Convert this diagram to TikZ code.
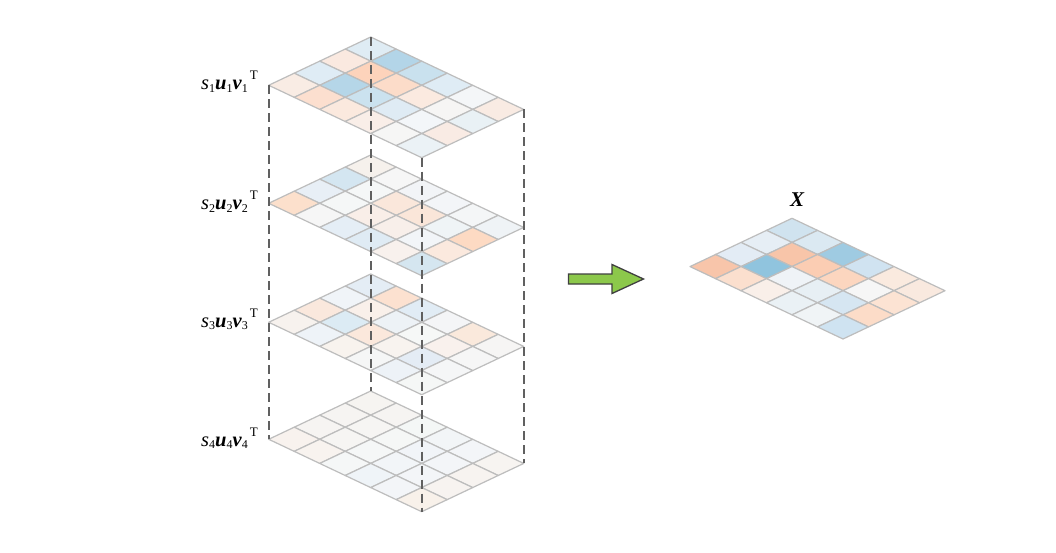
\documentclass[tikz,border=0pt]{standalone}
\usepackage{fontspec}
\setmainfont{Liberation Serif}
\newcommand{\sublab}[1]{\raisebox{-2.5pt}{\fontsize{12pt}{13pt}\selectfont #1}}
\newcommand{\svdlab}[1]{\textit{s}\sublab{#1}\textbf{\textit{u}}\sublab{#1}\textbf{\textit{v}}\sublab{#1}\kern2pt\raisebox{10pt}{\fontsize{13pt}{14pt}\selectfont T}}
\newcommand{\myplane}[4]{%
  \coordinate (#1T) at (#2,#3);
  \coordinate (#1L) at ($(#2,#3)+4*(-25.5,12.07)$);
  \coordinate (#1R) at ($(#2,#3)+6*(25.5,12.07)$);
  \coordinate (#1B) at ($(#2,#3)+2*(25.5,0)+10*(0,12.07)$);
  \foreach \c [count=\n from 0] in {#4} {
    \pgfmathtruncatemacro\jj{int(\n/6)}
    \pgfmathtruncatemacro\ii{\n-6*\jj}
    \definecolor{cellc}{HTML}{\c}
    \path[gridcell,fill=cellc,shift={(#2,#3)}]
      ({(\ii-\jj)*25.5},{(\ii+\jj)*12.07}) -- ++(25.5,12.07) -- ++(-25.5,12.07) -- ++(-25.5,-12.07) -- cycle;
  }
}
\usetikzlibrary{calc}
\tikzset{
  gridcell/.style={draw=gridline,line width=1.2pt,line join=round},
  dropline/.style={draw=dropgray,line width=1.7pt,dash pattern=on 9pt off 5pt},
  svdlabel/.style={anchor=base west,inner sep=0pt,font=\fontsize{20.5pt}{22pt}\selectfont},
  bigarrow/.style={draw=black!75,fill=arrowgreen,line width=1.3pt,line join=miter}
}
\definecolor{gridline}{HTML}{BDBDBD}
\definecolor{dropgray}{HTML}{606060}
\definecolor{arrowgreen}{HTML}{8CC84B}
\begin{document}
\begin{tikzpicture}[x=1pt,y=-1pt]
\useasboundingbox (0,0) rectangle (1056,553);
\fill[white] (0,0) rectangle (1056,553);
\myplane{d}{370.7}{391}{F6F4F1,F6F4F2,F4F7F6,F2F5F7,F3F5F8,F7F4F1,
 F6F4F2,F6F5F3,F5F7F6,F1F4F8,F3F5F8,F7F3F0,
 F6F4F2,F6F5F3,F5F7F7,F2F5F8,F3F5F8,F7F3F0,
 F8F2EE,F8F3EF,F5F7F7,EFF4F8,F3F5F8,F8F1EA}
\myplane{c}{370.7}{274}{E4EDF5,FCE1D0,E1ECF5,F4F5F7,FAE9DC,F6F5F4,
 F0F4F8,F9F0EA,EDF2F6,F6F8F7,F9F1ED,F6F6F6,
 FAE8DD,DCEBF4,FBE8DC,F8F3EF,E4ECF5,F5F6F7,
 F7F2EE,EEF3F8,F8F3EE,F5F6F6,EDF2F7,F5F7F6}
\myplane{b}{370.7}{155}{F6F1EC,F6F6F6,F2F4F7,F3F5F8,F4F6F7,EFF3F6,
 D4E6F1,F5F7F7,FAE7DB,FAE6D9,EFF4F6,FDDAC3,
 E8EFF6,F5F7F7,F9EEE8,F8EFEA,F2F5F8,FBE9DE,
 FCE0CC,F6F6F6,E5EEF6,DFEBF4,F8F1ED,D5E6F0}
\myplane{a}{370.7}{37}{DFECF4,B3D5E8,C9E1EE,DFECF5,F4F6F8,F9EBE3,
 FAE9E0,FDD3BB,FCDCC9,FBEAE0,F6F5F4,E9F1F5,
 DFECF5,B5D6E8,CBE2EF,DFEBF4,F3F6F9,F9EBE4,
 F9ECE4,FCDFCF,FBE9DE,F9EEE8,F6F6F5,EBF2F6}
\myplane{x}{792}{218.3}{D0E3EF,DBE9F2,9FCBE2,D0E3F1,FAEADF,F9E9DF,
 E6EEF5,F8C5A9,FBCDB3,FCD6BF,F6F6F6,FCE3D3,
 E3ECF5,90C4DE,EFF3F7,E7EFF4,D6E6F2,FCDCC8,
 F8C5AA,FBDFCE,F9EFE9,EAF1F5,F0F4F6,CFE3F1}
\draw[dropline] (aL) -- (dL);
\draw[dropline] (aT) -- (dT);
\draw[dropline] (aB) -- (dB);
\draw[dropline] (aR) -- (dR);
\node[svdlabel] (la) at (201,90) {\svdlab{1}};
\node[svdlabel] (lb) at (201,210) {\svdlab{2}};
\node[svdlabel] (lc) at (201,327) {\svdlab{3}};
\node[svdlabel] (ld) at (201,446) {\svdlab{4}};
\node[anchor=base,inner sep=0pt,font=\fontsize{21pt}{23pt}\selectfont\bfseries\itshape] (xl) at (797,206.5) {X};
\path[bigarrow] (568.5,274) -- (612,274) -- (612,264.5) -- (643.5,279) -- (612,293.5) -- (612,284) -- (568.5,284) -- cycle;
\end{tikzpicture}
\end{document}
